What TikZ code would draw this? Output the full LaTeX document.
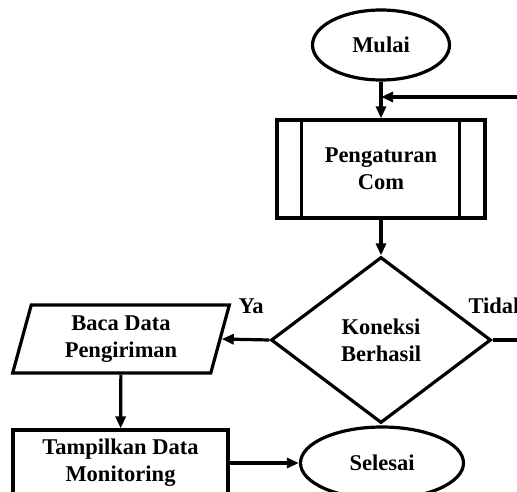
\documentclass[tikz,border=0pt]{standalone}
\usepackage{fontspec}
\setmainfont{Liberation Serif}
\usetikzlibrary{arrows.meta,calc,positioning,shapes.geometric}

\begin{document}
\begin{tikzpicture}[x=1pt,y=-1pt,
    line width=3.2pt,
    every node/.style={draw,align=center,inner sep=0pt,
        font=\fontsize{22.5}{27}\selectfont\bfseries},
    term/.style={ellipse},
    proc/.style={rectangle},
    io/.style={trapezium,trapezium left angle=76,trapezium right angle=104,
        trapezium stretches=true},
    cond/.style={diamond},
    lbl/.style={draw=none},
    arr/.style={-{Triangle[length=12pt,width=10pt]}}]
    \clip (0,0) rectangle (517,492);
    \node[term,minimum width=137pt,minimum height=70pt] (mulai) at (381,45) {Mulai};
    \node[proc,minimum width=208pt,minimum height=98pt] (atur) at (381,169) {Pengaturan\\Com};
    \node[cond,minimum width=220pt,minimum height=166pt] (koneksi) at (381,340) {Koneksi\\Berhasil};
    \node[io,minimum width=217pt,minimum height=68pt] (baca) at (121,339) {Baca Data\\Pengiriman};
    \node[proc,minimum width=215pt,minimum height=66pt] (tampil) at (120.5,463) {Tampilkan Data\\Monitoring};
    \node[term,minimum width=163pt,minimum height=72pt] (selesai) at (382,463) {Selesai};
    \coordinate (balik) at (517,97);
    \coordinate (gagal) at (517,340);
    \draw ($(atur.north west)+(26,0)$) -- ($(atur.south west)+(26,0)$);
    \draw ($(atur.north east)+(-27,0)$) -- ($(atur.south east)+(-27,0)$);
    \draw[arr] (mulai) -- (atur);
    \draw[arr] (balik) -- (balik -| mulai.south);
    \draw[arr] (atur) -- (koneksi);
    \draw[arr] (koneksi.west) -- (baca.east);
    \draw (koneksi.east) -- (gagal);
    \draw[arr] (baca) -- (tampil);
    \draw[arr] (tampil.east) -- (selesai.west);
    \node[lbl] (ya) at (251,306) {Ya};
    \node[lbl,anchor=west] (tidak) at (467,306) {Tidak};
\end{tikzpicture}
\end{document}
